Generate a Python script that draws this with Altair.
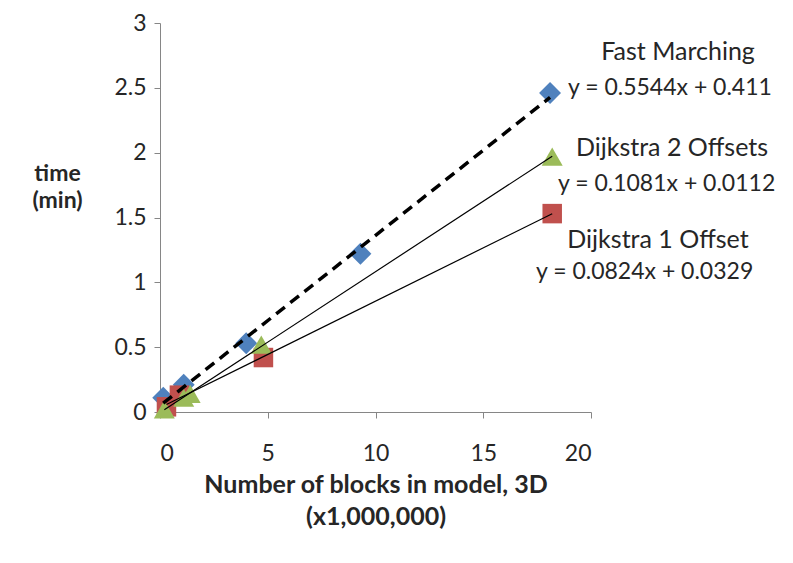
import altair as alt
import pandas as pd

# Data (x: blocks in millions, y: minutes)
fm_x = [0.15, 1.1, 4.0, 9.3, 18.1]
fm_y = [0.11, 0.21, 0.53, 1.22, 2.46]

d2_x = [0.2, 1.1, 1.4, 4.7, 18.2]
d2_y = [0.02, 0.11, 0.14, 0.52, 1.97]

d1_x = [0.3, 0.9, 4.8, 18.2]
d1_y = [0.04, 0.13, 0.42, 1.53]

series_names = ["Fast Marching", "Dijkstra 2 Offsets", "Dijkstra 1 Offset"]
equations = ["y = 0.5544x + 0.411", "y = 0.1081x + 0.0112", "y = 0.0824x + 0.0329"]

x_ticks = [0, 5, 10, 15, 20]
y_ticks = [0, 0.5, 1, 1.5, 2, 2.5, 3]

FONT = "Lato"
TXT = "#262626"

fm = pd.DataFrame({"x": fm_x, "y": fm_y})
d2 = pd.DataFrame({"x": d2_x, "y": d2_y})
d1 = pd.DataFrame({"x": d1_x, "y": d1_y})

xs = alt.Scale(domain=[0, 20], nice=False)
ys = alt.Scale(domain=[0, 3], nice=False)

x_axis = alt.Axis(values=x_ticks, format="~g", grid=False, domainColor="#868686", tickColor="#868686",
                  tickSize=6, labelFontSize=23, labelFont=FONT, labelColor=TXT, labelPadding=24,
                  title=["Number of blocks in model, 3D", "(x1,000,000)"],
                  titleFont=FONT, titleFontSize=25, titleFontWeight="bold", titleColor=TXT,
                  titlePadding=7, titleLineHeight=32)
y_axis = alt.Axis(values=y_ticks, format="~g", grid=False, domainColor="#868686", tickColor="#868686",
                  tickSize=6, labelFontSize=23, labelFont=FONT, labelColor=TXT, labelPadding=8,
                  title=["time", "(min)"], titleAngle=0, titleAlign="center", titleBaseline="top",
                  titleX=-103, titleY=139, titleFont=FONT, titleFontSize=23, titleFontWeight="bold",
                  titleColor=TXT, titleLineHeight=27)

X = alt.X("x:Q", scale=xs, axis=x_axis)
Y = alt.Y("y:Q", scale=ys, axis=y_axis)
Xn = alt.X("x:Q", scale=xs)
Yn = alt.Y("y:Q", scale=ys)

pts_fm = alt.Chart(fm).mark_point(shape="diamond", filled=True, size=480, color="#4F81BD", opacity=1).encode(x=X, y=Y)
pts_d1 = alt.Chart(d1).mark_point(shape="square", filled=True, size=380, color="#C0504D", opacity=1).encode(x=Xn, y=Yn)
pts_d2 = alt.Chart(d2).mark_point(shape="triangle-up", filled=True, size=440, color="#9BBB59", opacity=1).encode(x=Xn, y=Yn)

reg_fm = alt.Chart(fm).transform_regression("x", "y").mark_line(
    color="black", strokeWidth=3.5, strokeDash=[11, 7]).encode(x=Xn, y=Yn)
reg_d2 = alt.Chart(d2).transform_regression("x", "y").mark_line(
    color="black", strokeWidth=1.2).encode(x=Xn, y=Yn)
reg_d1 = alt.Chart(d1).transform_regression("x", "y").mark_line(
    color="black", strokeWidth=1.2).encode(x=Xn, y=Yn)

def label(text, px, py, align, size):
    return alt.Chart(pd.DataFrame({"t": [text]})).mark_text(
        font=FONT, fontSize=size, color=TXT, align=align, baseline="middle"
    ).encode(text="t:N", x=alt.value(px), y=alt.value(py))

labels = [
    label(series_names[0], 518, 29, "center", 25),
    label(equations[0], 408, 65, "left", 23),
    label(series_names[1], 512, 125, "center", 25),
    label(equations[1], 398, 161, "left", 23),
    label(series_names[2], 498, 217, "center", 25),
    label(equations[2], 376, 249, "left", 23),
]

chart = alt.layer(pts_fm, pts_d1, pts_d2, reg_fm, reg_d2, reg_d1, *labels).properties(
    width=431, height=389,
    background="white",
    autosize=alt.AutoSizeParams(type="none"),
    padding={"left": 152, "top": 15, "right": 194, "bottom": 143},
).configure_view(stroke=None)

chart.save("out.html", embed_options={"renderer": "svg", "actions": False})
